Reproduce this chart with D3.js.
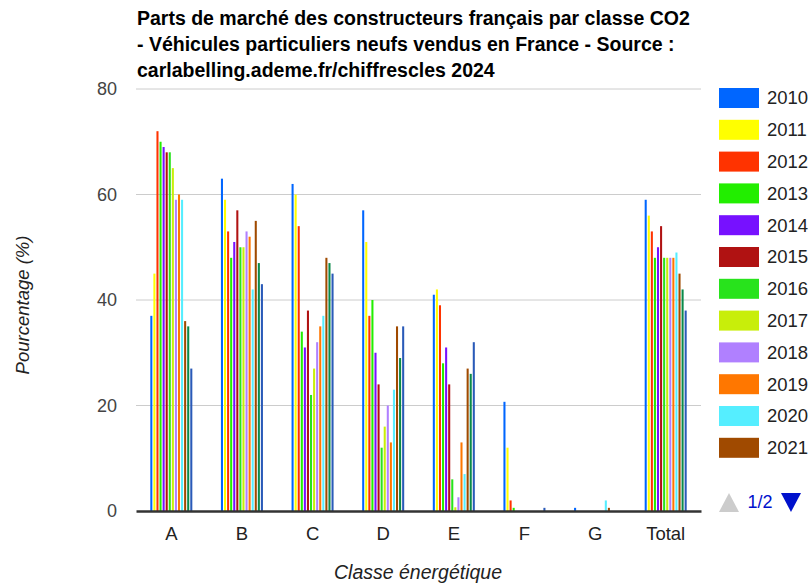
<!DOCTYPE html>
<html><head><meta charset="utf-8">
<script src="https://cdn.jsdelivr.net/npm/d3@7"></script>
<style>body{margin:0;background:#fff}svg{display:block;font-family:"Liberation Sans",Arial,sans-serif}</style>
</head><body><svg id="c" width="812" height="585"></svg>
<script>
const categories = ["A","B","C","D","E","F","G","Total"];
const years = ["2010","2011","2012","2013","2014","2015","2016","2017","2018","2019","2020","2021","2022","2023"];
const legendYears = ["2010","2011","2012","2013","2014","2015","2016","2017","2018","2019","2020","2021"];
const colors = ["#0066FF","#FFFF00","#FF3300","#22EE00","#7711FF","#B01212","#28E31C","#C8EE0A","#B080FF","#FF7700","#55EEFF","#A04A00","#0A8A4A","#2A5AB8"];
const s2010 = [37,63,62,57,41,20.7,0.6,59];
const s2011 = [45,59,60,51,42,12,0,56];
const s2012 = [72,53,54,37,39,2,0,53];
const s2013 = [70,48,34,40,28,0.6,0,48];
const s2014 = [69,51,31,30,31,0,0,50];
const s2015 = [68,57,38,24,24,0,0,54];
const s2016 = [68,50,22,12,6,0,0,48];
const s2017 = [65,50,27,16,0.7,0,0,48];
const s2018 = [59,53,32,20,2.6,0,0,48];
const s2019 = [60,52,35,13,13,0,0,48];
const s2020 = [59,42,37,23,7,0,2,49];
const s2021 = [36,55,48,35,27,0,0.6,45];
const s2022 = [35,47,47,29,26,0,0,42];
const s2023 = [27,43,45,35,32,0.6,0,38];
const series = [s2010,s2011,s2012,s2013,s2014,s2015,s2016,s2017,s2018,s2019,s2020,s2021,s2022,s2023];
const yTicks = [0,20,40,60,80];
const titleLines = ["Parts de marché des constructeurs français par classe CO2","- Véhicules particuliers neufs vendus en France - Source :","carlabelling.ademe.fr/chiffrescles 2024"];

const svg = d3.select("#c");
const L=136, R=701, T=89, B=511;
const x0 = d3.scaleBand().domain(categories).range([L,R]).paddingInner(0.405).paddingOuter(0.2025);
const x1 = d3.scaleBand().domain(years).range([0,x0.bandwidth()]).paddingInner(0.33).paddingOuter(0);
const y = d3.scaleLinear().domain([0,80]).range([B,T]);

svg.append("g").selectAll("line").data(yTicks.filter(d=>d>0)).join("line")
  .attr("x1",L).attr("x2",R).attr("y1",d=>y(d)).attr("y2",d=>y(d))
  .attr("stroke","#cccccc").attr("stroke-width",1);

const ya = svg.append("g").attr("transform",`translate(${L},0)`)
  .call(d3.axisLeft(y).tickValues(yTicks).tickSize(0).tickPadding(19));
ya.select(".domain").remove();
ya.selectAll("text").attr("font-size",18).attr("fill","#444").attr("font-family","Liberation Sans, Arial, sans-serif");

const g = svg.append("g");
categories.forEach((c,ci)=>{
  series.forEach((s,si)=>{
    g.append("rect").attr("x",x0(c)+x1(years[si])).attr("width",x1.bandwidth())
      .attr("y",y(s[ci])).attr("height",B-y(s[ci])).attr("fill",colors[si]);
  });
});

const xa = svg.append("g").attr("transform",`translate(0,${B})`)
  .call(d3.axisBottom(x0).tickSize(0).tickPadding(16));
xa.select(".domain").attr("stroke","#333").attr("stroke-width",2.5);
xa.selectAll("text").attr("font-size",18.5).attr("fill","#222").attr("font-family","Liberation Sans, Arial, sans-serif");

svg.append("g").selectAll("text").data(titleLines).join("text")
  .attr("x",L+1).attr("y",(d,i)=>25+i*26).attr("font-size",19.5).attr("font-weight","bold").attr("fill","#000").text(d=>d);
svg.append("text").attr("x",418).attr("y",579).attr("text-anchor","middle").attr("font-size",19.5).attr("font-style","italic").attr("fill","#222").text("Classe énergétique");
svg.append("text").attr("transform","translate(29,305) rotate(-90)").attr("text-anchor","middle").attr("font-size",18.5).attr("font-style","italic").attr("fill","#222").text("Pourcentage (%)");

const lg = svg.append("g");
legendYears.forEach((yr,i)=>{
  lg.append("rect").attr("x",719).attr("y",88+i*31.8).attr("width",40).attr("height",20).attr("fill",colors[i]);
  lg.append("text").attr("x",767).attr("y",98+i*31.8).attr("dy","0.35em").attr("font-size",18.5).attr("fill","#222").text(yr);
});
lg.append("path").attr("d","M719,512L729,493L739,512Z").attr("fill","#cccccc");
lg.append("text").attr("x",760).attr("y",502).attr("dy","0.35em").attr("text-anchor","middle").attr("font-size",18).attr("fill","#0011cc").text("1/2");
lg.append("path").attr("d","M781,493L801,493L791,512Z").attr("fill","#0011cc");
</script></body></html>
